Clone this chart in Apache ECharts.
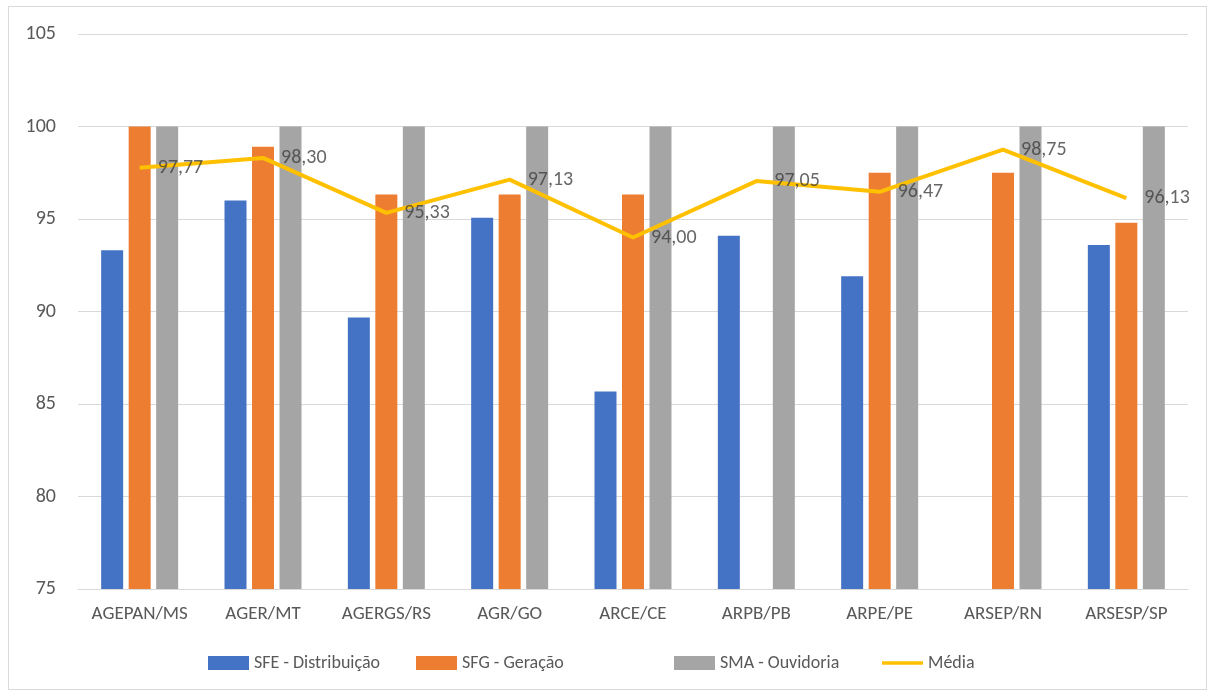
<!DOCTYPE html>
<html>
<head>
<meta charset="utf-8">
<script src="https://cdn.jsdelivr.net/npm/echarts@6/dist/echarts.min.js"></script>
<style>
  html, body { margin: 0; padding: 0; background: #fff; }
  #chart { position: absolute; left: 8px; top: 6px; width: 1199px; height: 684px; border: 1px solid #d9d9d9; box-sizing: border-box; }
</style>
</head>
<body>
<div id="chart"></div>
<script>
// chart data
const categories = ['AGEPAN/MS', 'AGER/MT', 'AGERGS/RS', 'AGR/GO', 'ARCE/CE', 'ARPB/PB', 'ARPE/PE', 'ARSEP/RN', 'ARSESP/SP'];
const sfeDistribuicao = [93.31, 96.0, 89.67, 95.07, 85.67, 94.1, 91.91, null, 93.6];
const sfgGeracao = [100, 98.9, 96.33, 96.33, 96.33, null, 97.5, 97.5, 94.8];
const smaOuvidoria = [100, 100, 100, 100, 100, 100, 100, 100, 100];
const media = [97.77, 98.30, 95.33, 97.13, 94.00, 97.05, 96.47, 98.75, 96.13];
const yTicks = [75, 80, 85, 90, 95, 100, 105];
const seriesNames = ['SFE - Distribuição', 'SFG - Geração', 'SMA - Ouvidoria', 'Média'];

const fontFamily = 'Carlito, Calibri, "Open Sans", "Liberation Sans", sans-serif';
const chart = echarts.init(document.getElementById('chart'));

const barSeries = function (name, data, color) {
  return {
    name: name,
    type: 'bar',
    data: data,
    barWidth: 22,
    barGap: '25%',
    itemStyle: { color: color },
    z: 2
  };
};

// Excel spreads the legend entries out unevenly, so one legend per entry
const legendLeft = [194, 402, 660, 868];
const legends = seriesNames.map(function (name, i) {
  return {
    left: legendLeft[i],
    bottom: 12,
    itemWidth: 41,
    itemHeight: 14,
    itemGap: 0,
    textStyle: { color: '#595959', fontSize: 18, fontFamily: fontFamily },
    data: [i < 3 ? { name: name, icon: 'rect' } : { name: name, icon: 'path://M0,0 L44,0 L44,4 L0,4 Z' }]
  };
});

const option = {
  animation: false,
  textStyle: { fontFamily: fontFamily },
  grid: { left: 69, right: 18, top: 27, bottom: 100, containLabel: false },
  legend: legends,
  xAxis: {
    type: 'category',
    data: categories,
    axisLine: { lineStyle: { color: '#d9d9d9' } },
    axisTick: { show: false },
    axisLabel: { color: '#595959', fontSize: 19, margin: 16, interval: 0 }
  },
  yAxis: {
    type: 'value',
    min: yTicks[0],
    max: yTicks[yTicks.length - 1],
    interval: 5,
    axisLine: { show: false },
    axisTick: { show: false },
    axisLabel: { color: '#595959', fontSize: 20, margin: 22 },
    splitLine: { lineStyle: { color: '#d9d9d9', width: 1 } }
  },
  series: [
    barSeries(seriesNames[0], sfeDistribuicao, '#4472c4'),
    barSeries(seriesNames[1], sfgGeracao, '#ed7d31'),
    barSeries(seriesNames[2], smaOuvidoria, '#a5a5a5'),
    {
      name: seriesNames[3],
      type: 'line',
      data: media,
      symbol: 'none',
      lineStyle: { color: '#ffc000', width: 4 },
      itemStyle: { color: '#ffc000' },
      z: 5
    },
    {
      // labels for the average line
      name: 'Média rótulos',
      type: 'scatter',
      data: media,
      symbolSize: 0,
      silent: true,
      z: 6,
      label: {
        show: true,
        position: 'right',
        distance: 18,
        color: '#404040',
        fontSize: 20,
        formatter: function (p) { return p.value.toFixed(2).replace('.', ','); }
      }
    }
  ]
};

chart.setOption(option);
</script>
</body>
</html>
